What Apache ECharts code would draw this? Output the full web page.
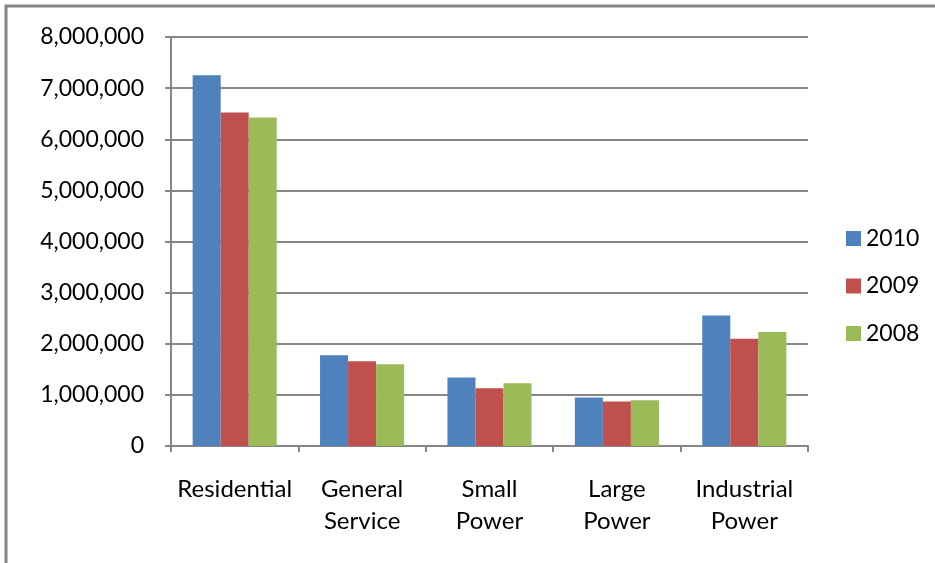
<!DOCTYPE html>
<html>
<head>
<meta charset="utf-8">
<script src="https://cdn.jsdelivr.net/npm/echarts@6/dist/echarts.min.js"></script>
<style>
  html, body { margin: 0; padding: 0; background: #fff; }
  #chart { width: 935px; height: 563px; }
</style>
</head>
<body>
<div id="chart"></div>
<script>
// Customer classes and yearly totals
const categories = ['Residential', 'General\nService', 'Small\nPower', 'Large\nPower', 'Industrial\nPower'];
const years = ['2010', '2009', '2008'];
const values2010 = [7250000, 1775000, 1340000, 948000, 2555000];
const values2009 = [6525000, 1657000, 1131000, 871000, 2099000];
const values2008 = [6427000, 1598000, 1228000, 897000, 2228000];
const yTicks = { min: 0, max: 8000000, interval: 1000000 };

const colors = ['#4F81BD', '#C0504D', '#9BBB59'];
const seriesValues = [values2010, values2009, values2008];
const FONT = 'Lato';
const GRAY = '#868686';

const chart = echarts.init(document.getElementById('chart'), null, { renderer: 'canvas' });

chart.setOption({
  animation: false,
  color: colors,
  textStyle: { fontFamily: FONT },
  grid: { left: 171, right: 127, top: 37, bottom: 117, containLabel: false },
  legend: {
    orient: 'vertical',
    left: 846,
    top: 227,
    padding: 0,
    itemWidth: 15,
    itemHeight: 15,
    itemGap: 24.5,
    icon: 'rect',
    textStyle: { fontFamily: FONT, fontSize: 23, color: '#000', padding: [0, 0, 0, 0] },
    data: years
  },
  xAxis: {
    type: 'category',
    data: categories,
    axisLine: { lineStyle: { color: GRAY, width: 2 } },
    axisTick: { show: true, alignWithLabel: false, length: 6, lineStyle: { color: GRAY, width: 2 } },
    axisLabel: {
      color: '#000',
      fontFamily: FONT,
      fontSize: 24,
      lineHeight: 32,
      margin: 27,
      interval: 0
    }
  },
  yAxis: {
    type: 'value',
    min: yTicks.min,
    max: yTicks.max,
    interval: yTicks.interval,
    axisLine: { show: true, lineStyle: { color: GRAY, width: 2 } },
    axisTick: { show: true, length: 6, lineStyle: { color: GRAY, width: 2 } },
    splitLine: { show: true, lineStyle: { color: GRAY, width: 2 } },
    axisLabel: {
      color: '#000',
      fontFamily: FONT,
      fontSize: 23,
      margin: 27,
      formatter: v => v.toLocaleString('en-US')
    }
  },
  series: years.map((y, i) => ({
    name: y,
    type: 'bar',
    data: seriesValues[i],
    barGap: '0%',
    barCategoryGap: '34%',
    itemStyle: { color: colors[i] }
  })),
  graphic: [
    {
      type: 'polyline',
      silent: true,
      shape: { points: [[6, 563], [6, 6], [935, 6]] },
      style: { stroke: GRAY, lineWidth: 3, fill: null }
    }
  ]
});
</script>
</body>
</html>
